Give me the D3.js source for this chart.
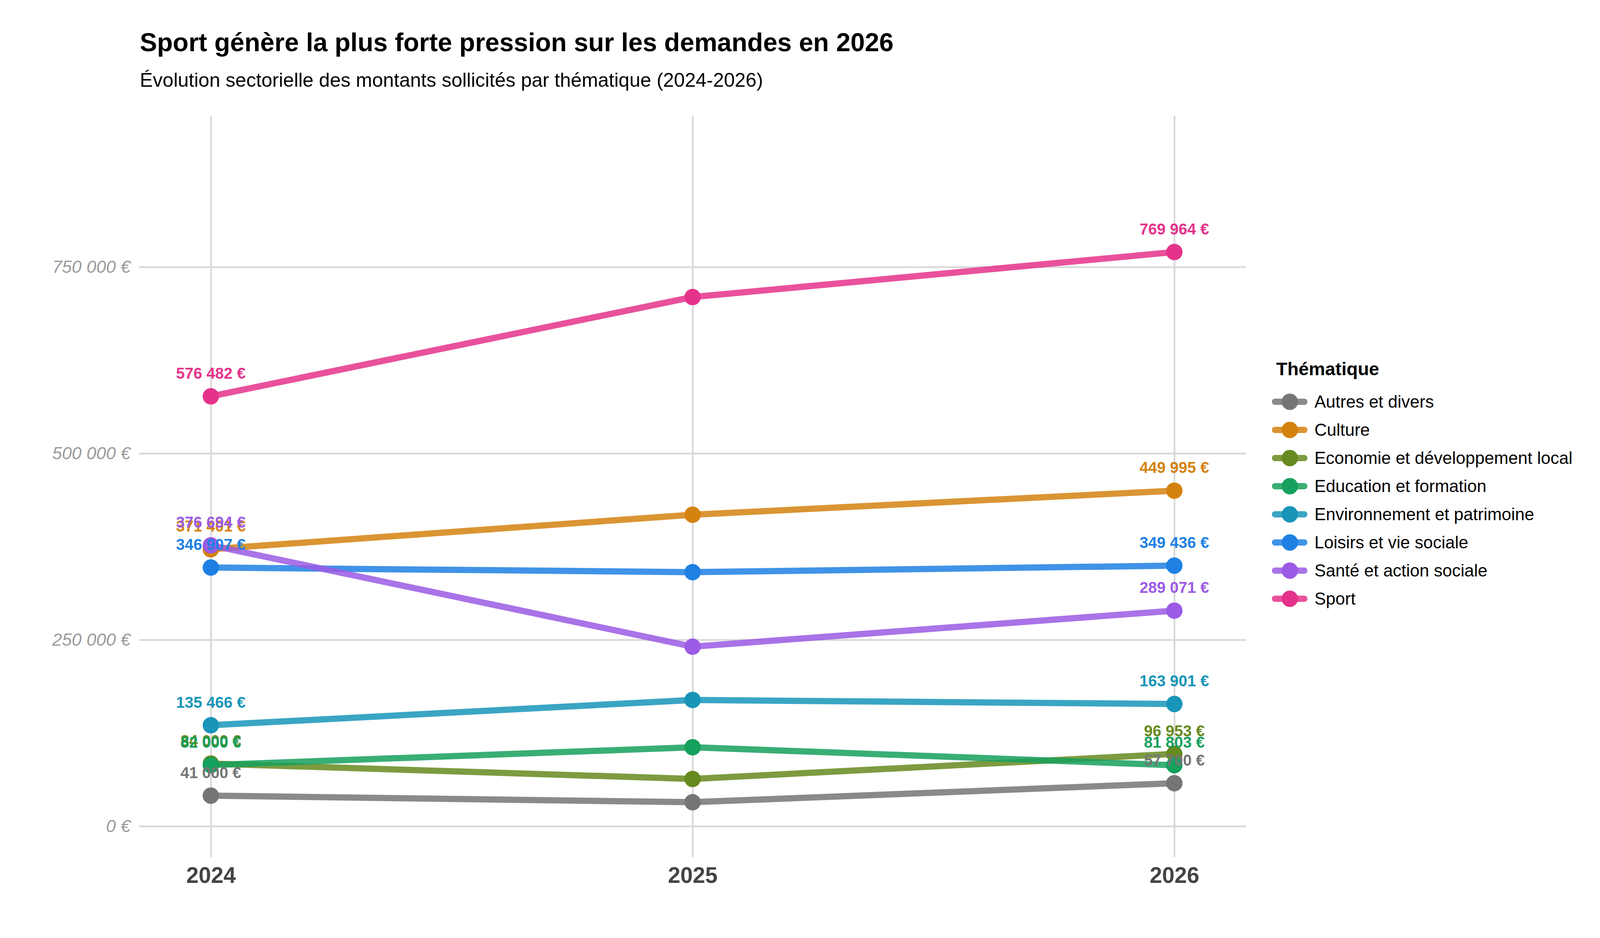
<!DOCTYPE html>
<html>
<head>
<meta charset="utf-8">
<script src="https://cdn.jsdelivr.net/npm/d3@7"></script>
<style>
  body { margin: 0; background: #fff; }
  text { font-family: "Liberation Sans", Arial, sans-serif; }
</style>
</head>
<body>
<svg class="chart"></svg>
<script>
// data
var years = [2024, 2025, 2026];
var themes = [
  "Autres et divers",
  "Culture",
  "Economie et développement local",
  "Education et formation",
  "Environnement et patrimoine",
  "Loisirs et vie sociale",
  "Santé et action sociale",
  "Sport"
];
var autresEtDivers = [41000, 32200, 57700];
var culture = [371401, 417700, 449995];
var economie = [84000, 63400, 96953];
var education = [82000, 105900, 81803];
var environnement = [135466, 169300, 163901];
var loisirs = [346907, 340700, 349436];
var sante = [376694, 240800, 289071];
var sport = [576482, 709600, 769964];
var yTicks = [0, 250000, 500000, 750000];

var colors = ["#757575", "#D4820F", "#668A1F", "#16A05D", "#1895B8", "#1F80E3", "#9B5BE4", "#E5338B"];

var seriesValues = [autresEtDivers, culture, economie, education, environnement, loisirs, sante, sport];
var series = themes.map(function(t, i) {
  return {
    name: t,
    color: colors[i],
    values: years.map(function(yr, j) { return { year: yr, value: seriesValues[i][j] }; })
  };
});

var W = 4200, H = 2400;
var panel = { left: 356, right: 3190, top: 296, bottom: 2193 };

var fr = d3.formatLocale({ decimal: ",", thousands: " ", grouping: [3], currency: ["", " €"] });
var euro = fr.format("$,.0f");

var x = d3.scaleLinear()
  .domain([2024 - 0.149, 2026 + 0.149])
  .range([panel.left, panel.right]);
var y = d3.scaleLinear()
  .domain([-41400, 952800])
  .range([panel.bottom, panel.top]);

var svg = d3.select(".chart")
  .attr("width", W)
  .attr("height", H);

svg.append("rect").attr("width", W).attr("height", H).attr("fill", "#fff");

// titles
svg.append("text")
  .attr("x", 358).attr("y", 131)
  .attr("font-size", 66).attr("font-weight", "bold").attr("fill", "#000")
  .text("Sport génère la plus forte pression sur les demandes en 2026");
svg.append("text")
  .attr("x", 358).attr("y", 222)
  .attr("font-size", 50).attr("fill", "#000")
  .text("Évolution sectorielle des montants sollicités par thématique (2024-2026)");

// axes + grid
var yAxis = d3.axisLeft(y)
  .tickValues(yTicks)
  .tickFormat(euro)
  .tickSize(-(panel.right - panel.left))
  .tickPadding(22);
var xAxis = d3.axisBottom(x)
  .tickValues(years)
  .tickFormat(d3.format("d"))
  .tickSize(-(panel.bottom - panel.top))
  .tickPadding(26);

var gy = svg.append("g")
  .attr("class", "y axis")
  .attr("transform", "translate(" + panel.left + ",0)")
  .call(yAxis);
gy.select(".domain").remove();
gy.selectAll("line").attr("stroke", "#D9D9D9").attr("stroke-width", 4.5);
gy.selectAll("text")
  .attr("font-size", 45).attr("font-style", "italic").attr("fill", "#9A9A9A")
  .attr("font-family", "Liberation Sans, Arial, sans-serif");

var gx = svg.append("g")
  .attr("class", "x axis")
  .attr("transform", "translate(0," + panel.bottom + ")")
  .call(xAxis);
gx.select(".domain").remove();
gx.selectAll("line").attr("stroke", "#D9D9D9").attr("stroke-width", 4.5);
gx.selectAll("text")
  .attr("font-size", 57).attr("font-weight", "bold").attr("fill", "#444")
  .attr("font-family", "Liberation Sans, Arial, sans-serif");

var line = d3.line()
  .x(function(d) { return x(d.year); })
  .y(function(d) { return y(d.value); });

// lines
svg.append("g").selectAll("path")
  .data(series)
  .enter().append("path")
    .attr("d", function(s) { return line(s.values); })
    .attr("fill", "none")
    .attr("stroke", function(s) { return s.color; })
    .attr("stroke-opacity", 0.85)
    .attr("stroke-width", 16);

// points
series.forEach(function(s) {
  svg.append("g").selectAll("circle")
    .data(s.values)
    .enter().append("circle")
      .attr("cx", function(d) { return x(d.year); })
      .attr("cy", function(d) { return y(d.value); })
      .attr("r", 21)
      .attr("fill", s.color);
});

// value labels, first and last year only (they overlap in the original too)
series.forEach(function(s) {
  svg.append("g").selectAll("text")
    .data(s.values.filter(function(d) { return d.year !== 2025; }))
    .enter().append("text")
      .attr("x", function(d) { return x(d.year); })
      .attr("y", function(d) { return y(d.value) - 45; })
      .attr("text-anchor", "middle")
      .attr("font-size", 40).attr("font-weight", "bold")
      .attr("fill", s.color)
      .text(function(d) { return euro(d.value); });
});

// legend
var legend = svg.append("g").attr("transform", "translate(3264,0)");
legend.append("text")
  .attr("x", 3).attr("y", 960)
  .attr("font-size", 47).attr("font-weight", "bold").attr("fill", "#000")
  .text("Thématique");
var item = legend.selectAll(".item")
  .data(series)
  .enter().append("g")
    .attr("class", "item")
    .attr("transform", function(d, i) { return "translate(0," + (1028 + i * 72) + ")"; });
item.append("line")
  .attr("x1", 0).attr("x2", 75)
  .attr("stroke", function(d) { return d.color; })
  .attr("stroke-opacity", 0.85)
  .attr("stroke-width", 16)
  .attr("stroke-linecap", "round");
item.append("circle")
  .attr("cx", 38).attr("r", 21)
  .attr("fill", function(d) { return d.color; });
item.append("text")
  .attr("x", 101).attr("y", 15)
  .attr("font-size", 44).attr("fill", "#000")
  .text(function(d) { return d.name; });
</script>
</body>
</html>
